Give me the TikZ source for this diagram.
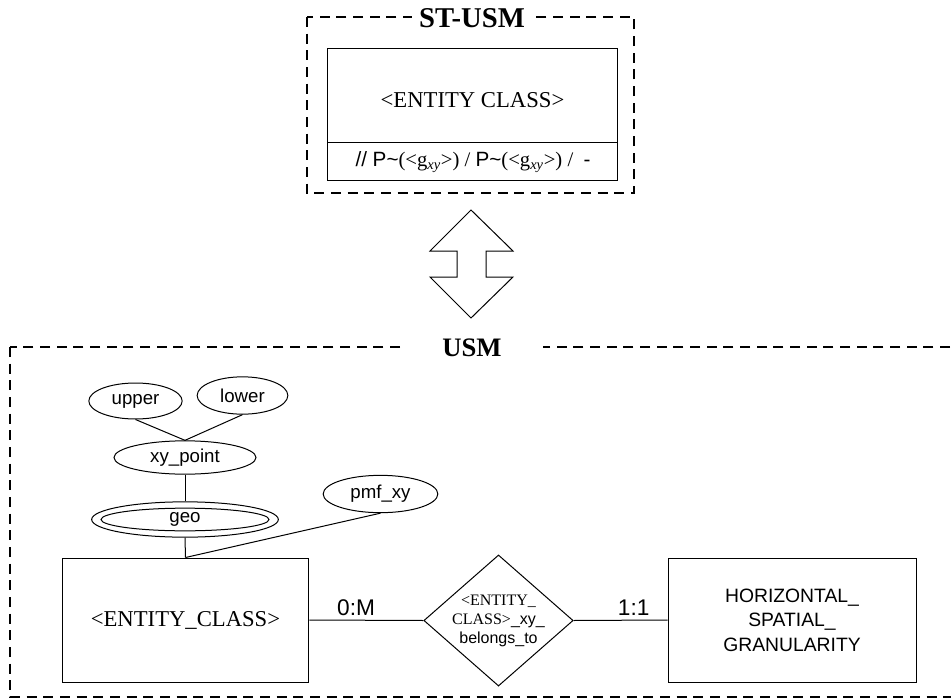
\documentclass[tikz,border=0pt]{standalone}
\usepackage{fontspec}
\setmainfont{Liberation Serif}
\setsansfont{Liberation Sans}
\usetikzlibrary{shapes.geometric}

\begin{document}
\begin{tikzpicture}[x=0.75pt,y=-0.75pt,line width=0.75pt,
  frame/.style={line width=1.4pt,dash pattern=on 7.5pt off 5pt},
  title/.style={fill=white,inner ysep=1pt,font=\bfseries\fontsize{20}{24}\selectfont},
  attr/.style={draw,ellipse,inner sep=0pt,font=\sffamily\fontsize{14}{16}\selectfont},
  ent/.style={draw,rectangle,inner sep=0pt},
  card/.style={above,inner sep=3pt,font=\sffamily\fontsize{17}{20}\selectfont}]
\useasboundingbox (0,0) rectangle (951,700);

% ST-USM
\draw[frame] (307,17) rectangle (634,193);
\node[title,inner xsep=5pt,font=\bfseries\fontsize{21.5}{24}\selectfont] (sttitle) at (472,18) {ST-USM};
\node[ent,minimum width=217pt,minimum height=99pt] (stbox) at (472.5,114) {};
\node[font=\fontsize{17}{20}\selectfont] (stname) at (472.5,100) {<ENTITY CLASS>};
\draw (stbox.west |- 0,142) -- (stbox.east |- 0,142);
\node[font=\fontsize{15.5}{18}\selectfont] (stgran) at (473,162)
  {{\sffamily //~P\textasciitilde}(<g\textsubscript{\textit{xy}}>) / {\sffamily P\textasciitilde}(<g\textsubscript{\textit{xy}}>) /~~{\sffamily -}};

% arrow
\draw (471,210) -- (513,251) -- (486,251) -- (486,277) -- (513,277) -- (471,318)
  -- (430,277) -- (457,277) -- (457,251) -- (430,251) -- cycle;

% USM
\begin{scope}
\clip (0,0) rectangle (951,700);
\draw[frame] (10,347) rectangle (980,697);
\end{scope}
\node[title,inner xsep=31pt] (usmtitle) at (472,348) {USM};

\node[attr,minimum width=70pt,minimum height=27pt] (upper) at (135.5,401) {upper};
\node[attr,minimum width=68pt,minimum height=28pt] (lower) at (242.5,395.5) {lower};
\node[attr,minimum width=106.5pt,minimum height=25pt] (xypoint) at (185,457.5) {xy\_point};
\node[attr,minimum width=140pt,minimum height=26.5pt] (geo) at (185,519.5) {};
\node[attr,minimum width=126pt,minimum height=17pt] (geoin) at (185,519.5) {geo};
\node[attr,minimum width=86pt,minimum height=28pt] (pmf) at (380.5,494) {pmf\_xy};

\node[ent,minimum width=185pt,minimum height=93pt,font=\fontsize{17}{20}\selectfont] (entity) at (185.5,620) {<ENTITY\_CLASS>};
\node[draw,diamond,inner xsep=0pt,inner ysep=-5pt,minimum width=112pt,minimum height=92pt,
  align=center,font=\fontsize{12}{14.25}\selectfont] (rel) at (498.5,620.5)
  {<ENTITY\_\\CLASS>{\sffamily\_xy\_}\\{\sffamily belongs\_to}};
\node[ent,minimum width=186pt,minimum height=93pt,align=center,
  font=\sffamily\fontsize{14.5}{18.4}\selectfont] (hsg) at (792,620)
  {HORIZONTAL\_\\SPATIAL\_\\GRANULARITY};

\draw (upper.south) -- (xypoint.north);
\draw (lower.south) -- (xypoint.north);
\draw (xypoint.south) -- (geo.north);
\draw (geo.south) -- (entity.north);
\draw (pmf.south) -- (entity.north);
\draw (entity.east) -- (rel.west) node[card,pos=0.41] (card1) {0:M};
\draw (rel.east) -- (hsg.west) node[card,pos=0.64] (card2) {1:1};
\end{tikzpicture}
\end{document}
